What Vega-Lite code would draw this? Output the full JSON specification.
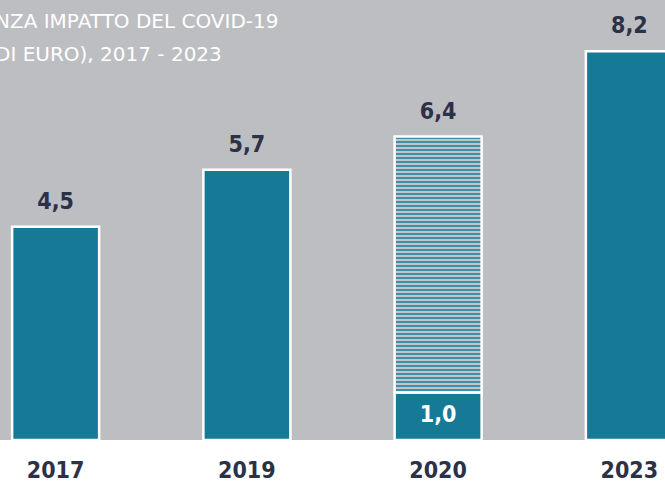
{
  "$schema": "https://vega.github.io/schema/vega-lite/v6.json",
  "width": 665,
  "height": 440,
  "autosize": {"type": "none"},
  "padding": {"left": 0, "top": 0, "right": 0, "bottom": 42},
  "background": "#ffffff",
  "title": {
    "text": ["NZA IMPATTO DEL COVID-19", "DI EURO), 2017 - 2023"],
    "anchor": "start",
    "frame": "group",
    "orient": "top",
    "offset": -65,
    "baseline": "top",
    "dx": -5,
    "lineHeight": 33,
    "font": "'DejaVu Sans', sans-serif",
    "fontSize": 20,
    "fontWeight": "normal",
    "color": "#ffffff"
  },
  "data": {
    "values": [
      {"anno": "2017", "da": 0, "a": 4.5, "tipo": "effettivo"},
      {"anno": "2019", "da": 0, "a": 5.7, "tipo": "effettivo"},
      {"anno": "2020", "da": 0, "a": 1.0, "tipo": "effettivo"},
      {"anno": "2020", "da": 1.0, "a": 6.4, "tipo": "senza impatto COVID-19"},
      {"anno": "2023", "da": 0, "a": 8.2, "tipo": "effettivo"}
    ]
  },
  "encoding": {
    "x": {
      "field": "anno",
      "type": "nominal",
      "sort": ["2017", "2019", "2020", "2023"],
      "scale": {"range": [-40, 725], "paddingInner": 0.545, "paddingOuter": 0.2725},
      "axis": {
        "title": null,
        "domain": false,
        "ticks": false,
        "labelAngle": 0,
        "labelPadding": 19,
        "labelFont": "'DejaVu Sans Condensed', sans-serif",
        "labelFontWeight": "bold",
        "labelFontSize": 23,
        "labelColor": "#2b3146"
      }
    },
    "y": {
      "field": "a",
      "type": "quantitative",
      "scale": {"domain": [0, 9.28125], "nice": false, "zero": true},
      "axis": null
    },
    "y2": {"field": "da"}
  },
  "layer": [
    {
      "transform": [{"filter": "datum.tipo == 'effettivo'"}],
      "mark": {"type": "bar", "fill": "#167a97", "stroke": "#ffffff", "strokeWidth": 2.5}
    },
    {
      "transform": [{"filter": "datum.tipo != 'effettivo'"}],
      "mark": {
        "type": "bar",
        "stroke": "#ffffff",
        "strokeWidth": 2.5,
        "fill": {
          "gradient": "linear", "x1": 0, "y1": 0, "x2": 0, "y2": 1,
          "stops": [
            {"offset": 0, "color": "#3f8fab"}, {"offset": 0.0078125, "color": "#3f8fab"}, {"offset": 0.0078125, "color": "#c3c4c7"}, {"offset": 0.015625, "color": "#c3c4c7"},
            {"offset": 0.015625, "color": "#3f8fab"}, {"offset": 0.0234375, "color": "#3f8fab"}, {"offset": 0.0234375, "color": "#c3c4c7"}, {"offset": 0.03125, "color": "#c3c4c7"},
            {"offset": 0.03125, "color": "#3f8fab"}, {"offset": 0.0390625, "color": "#3f8fab"}, {"offset": 0.0390625, "color": "#c3c4c7"}, {"offset": 0.046875, "color": "#c3c4c7"},
            {"offset": 0.046875, "color": "#3f8fab"}, {"offset": 0.0546875, "color": "#3f8fab"}, {"offset": 0.0546875, "color": "#c3c4c7"}, {"offset": 0.0625, "color": "#c3c4c7"},
            {"offset": 0.0625, "color": "#3f8fab"}, {"offset": 0.0703125, "color": "#3f8fab"}, {"offset": 0.0703125, "color": "#c3c4c7"}, {"offset": 0.078125, "color": "#c3c4c7"},
            {"offset": 0.078125, "color": "#3f8fab"}, {"offset": 0.0859375, "color": "#3f8fab"}, {"offset": 0.0859375, "color": "#c3c4c7"}, {"offset": 0.09375, "color": "#c3c4c7"},
            {"offset": 0.09375, "color": "#3f8fab"}, {"offset": 0.1015625, "color": "#3f8fab"}, {"offset": 0.1015625, "color": "#c3c4c7"}, {"offset": 0.109375, "color": "#c3c4c7"},
            {"offset": 0.109375, "color": "#3f8fab"}, {"offset": 0.1171875, "color": "#3f8fab"}, {"offset": 0.1171875, "color": "#c3c4c7"}, {"offset": 0.125, "color": "#c3c4c7"},
            {"offset": 0.125, "color": "#3f8fab"}, {"offset": 0.1328125, "color": "#3f8fab"}, {"offset": 0.1328125, "color": "#c3c4c7"}, {"offset": 0.140625, "color": "#c3c4c7"},
            {"offset": 0.140625, "color": "#3f8fab"}, {"offset": 0.1484375, "color": "#3f8fab"}, {"offset": 0.1484375, "color": "#c3c4c7"}, {"offset": 0.15625, "color": "#c3c4c7"},
            {"offset": 0.15625, "color": "#3f8fab"}, {"offset": 0.1640625, "color": "#3f8fab"}, {"offset": 0.1640625, "color": "#c3c4c7"}, {"offset": 0.171875, "color": "#c3c4c7"},
            {"offset": 0.171875, "color": "#3f8fab"}, {"offset": 0.1796875, "color": "#3f8fab"}, {"offset": 0.1796875, "color": "#c3c4c7"}, {"offset": 0.1875, "color": "#c3c4c7"},
            {"offset": 0.1875, "color": "#3f8fab"}, {"offset": 0.1953125, "color": "#3f8fab"}, {"offset": 0.1953125, "color": "#c3c4c7"}, {"offset": 0.203125, "color": "#c3c4c7"},
            {"offset": 0.203125, "color": "#3f8fab"}, {"offset": 0.2109375, "color": "#3f8fab"}, {"offset": 0.2109375, "color": "#c3c4c7"}, {"offset": 0.21875, "color": "#c3c4c7"},
            {"offset": 0.21875, "color": "#3f8fab"}, {"offset": 0.2265625, "color": "#3f8fab"}, {"offset": 0.2265625, "color": "#c3c4c7"}, {"offset": 0.234375, "color": "#c3c4c7"},
            {"offset": 0.234375, "color": "#3f8fab"}, {"offset": 0.2421875, "color": "#3f8fab"}, {"offset": 0.2421875, "color": "#c3c4c7"}, {"offset": 0.25, "color": "#c3c4c7"},
            {"offset": 0.25, "color": "#3f8fab"}, {"offset": 0.2578125, "color": "#3f8fab"}, {"offset": 0.2578125, "color": "#c3c4c7"}, {"offset": 0.265625, "color": "#c3c4c7"},
            {"offset": 0.265625, "color": "#3f8fab"}, {"offset": 0.2734375, "color": "#3f8fab"}, {"offset": 0.2734375, "color": "#c3c4c7"}, {"offset": 0.28125, "color": "#c3c4c7"},
            {"offset": 0.28125, "color": "#3f8fab"}, {"offset": 0.2890625, "color": "#3f8fab"}, {"offset": 0.2890625, "color": "#c3c4c7"}, {"offset": 0.296875, "color": "#c3c4c7"},
            {"offset": 0.296875, "color": "#3f8fab"}, {"offset": 0.3046875, "color": "#3f8fab"}, {"offset": 0.3046875, "color": "#c3c4c7"}, {"offset": 0.3125, "color": "#c3c4c7"},
            {"offset": 0.3125, "color": "#3f8fab"}, {"offset": 0.3203125, "color": "#3f8fab"}, {"offset": 0.3203125, "color": "#c3c4c7"}, {"offset": 0.328125, "color": "#c3c4c7"},
            {"offset": 0.328125, "color": "#3f8fab"}, {"offset": 0.3359375, "color": "#3f8fab"}, {"offset": 0.3359375, "color": "#c3c4c7"}, {"offset": 0.34375, "color": "#c3c4c7"},
            {"offset": 0.34375, "color": "#3f8fab"}, {"offset": 0.3515625, "color": "#3f8fab"}, {"offset": 0.3515625, "color": "#c3c4c7"}, {"offset": 0.359375, "color": "#c3c4c7"},
            {"offset": 0.359375, "color": "#3f8fab"}, {"offset": 0.3671875, "color": "#3f8fab"}, {"offset": 0.3671875, "color": "#c3c4c7"}, {"offset": 0.375, "color": "#c3c4c7"},
            {"offset": 0.375, "color": "#3f8fab"}, {"offset": 0.3828125, "color": "#3f8fab"}, {"offset": 0.3828125, "color": "#c3c4c7"}, {"offset": 0.390625, "color": "#c3c4c7"},
            {"offset": 0.390625, "color": "#3f8fab"}, {"offset": 0.3984375, "color": "#3f8fab"}, {"offset": 0.3984375, "color": "#c3c4c7"}, {"offset": 0.40625, "color": "#c3c4c7"},
            {"offset": 0.40625, "color": "#3f8fab"}, {"offset": 0.4140625, "color": "#3f8fab"}, {"offset": 0.4140625, "color": "#c3c4c7"}, {"offset": 0.421875, "color": "#c3c4c7"},
            {"offset": 0.421875, "color": "#3f8fab"}, {"offset": 0.4296875, "color": "#3f8fab"}, {"offset": 0.4296875, "color": "#c3c4c7"}, {"offset": 0.4375, "color": "#c3c4c7"},
            {"offset": 0.4375, "color": "#3f8fab"}, {"offset": 0.4453125, "color": "#3f8fab"}, {"offset": 0.4453125, "color": "#c3c4c7"}, {"offset": 0.453125, "color": "#c3c4c7"},
            {"offset": 0.453125, "color": "#3f8fab"}, {"offset": 0.4609375, "color": "#3f8fab"}, {"offset": 0.4609375, "color": "#c3c4c7"}, {"offset": 0.46875, "color": "#c3c4c7"},
            {"offset": 0.46875, "color": "#3f8fab"}, {"offset": 0.4765625, "color": "#3f8fab"}, {"offset": 0.4765625, "color": "#c3c4c7"}, {"offset": 0.484375, "color": "#c3c4c7"},
            {"offset": 0.484375, "color": "#3f8fab"}, {"offset": 0.4921875, "color": "#3f8fab"}, {"offset": 0.4921875, "color": "#c3c4c7"}, {"offset": 0.5, "color": "#c3c4c7"},
            {"offset": 0.5, "color": "#3f8fab"}, {"offset": 0.5078125, "color": "#3f8fab"}, {"offset": 0.5078125, "color": "#c3c4c7"}, {"offset": 0.515625, "color": "#c3c4c7"},
            {"offset": 0.515625, "color": "#3f8fab"}, {"offset": 0.5234375, "color": "#3f8fab"}, {"offset": 0.5234375, "color": "#c3c4c7"}, {"offset": 0.53125, "color": "#c3c4c7"},
            {"offset": 0.53125, "color": "#3f8fab"}, {"offset": 0.5390625, "color": "#3f8fab"}, {"offset": 0.5390625, "color": "#c3c4c7"}, {"offset": 0.546875, "color": "#c3c4c7"},
            {"offset": 0.546875, "color": "#3f8fab"}, {"offset": 0.5546875, "color": "#3f8fab"}, {"offset": 0.5546875, "color": "#c3c4c7"}, {"offset": 0.5625, "color": "#c3c4c7"},
            {"offset": 0.5625, "color": "#3f8fab"}, {"offset": 0.5703125, "color": "#3f8fab"}, {"offset": 0.5703125, "color": "#c3c4c7"}, {"offset": 0.578125, "color": "#c3c4c7"},
            {"offset": 0.578125, "color": "#3f8fab"}, {"offset": 0.5859375, "color": "#3f8fab"}, {"offset": 0.5859375, "color": "#c3c4c7"}, {"offset": 0.59375, "color": "#c3c4c7"},
            {"offset": 0.59375, "color": "#3f8fab"}, {"offset": 0.6015625, "color": "#3f8fab"}, {"offset": 0.6015625, "color": "#c3c4c7"}, {"offset": 0.609375, "color": "#c3c4c7"},
            {"offset": 0.609375, "color": "#3f8fab"}, {"offset": 0.6171875, "color": "#3f8fab"}, {"offset": 0.6171875, "color": "#c3c4c7"}, {"offset": 0.625, "color": "#c3c4c7"},
            {"offset": 0.625, "color": "#3f8fab"}, {"offset": 0.6328125, "color": "#3f8fab"}, {"offset": 0.6328125, "color": "#c3c4c7"}, {"offset": 0.640625, "color": "#c3c4c7"},
            {"offset": 0.640625, "color": "#3f8fab"}, {"offset": 0.6484375, "color": "#3f8fab"}, {"offset": 0.6484375, "color": "#c3c4c7"}, {"offset": 0.65625, "color": "#c3c4c7"},
            {"offset": 0.65625, "color": "#3f8fab"}, {"offset": 0.6640625, "color": "#3f8fab"}, {"offset": 0.6640625, "color": "#c3c4c7"}, {"offset": 0.671875, "color": "#c3c4c7"},
            {"offset": 0.671875, "color": "#3f8fab"}, {"offset": 0.6796875, "color": "#3f8fab"}, {"offset": 0.6796875, "color": "#c3c4c7"}, {"offset": 0.6875, "color": "#c3c4c7"},
            {"offset": 0.6875, "color": "#3f8fab"}, {"offset": 0.6953125, "color": "#3f8fab"}, {"offset": 0.6953125, "color": "#c3c4c7"}, {"offset": 0.703125, "color": "#c3c4c7"},
            {"offset": 0.703125, "color": "#3f8fab"}, {"offset": 0.7109375, "color": "#3f8fab"}, {"offset": 0.7109375, "color": "#c3c4c7"}, {"offset": 0.71875, "color": "#c3c4c7"},
            {"offset": 0.71875, "color": "#3f8fab"}, {"offset": 0.7265625, "color": "#3f8fab"}, {"offset": 0.7265625, "color": "#c3c4c7"}, {"offset": 0.734375, "color": "#c3c4c7"},
            {"offset": 0.734375, "color": "#3f8fab"}, {"offset": 0.7421875, "color": "#3f8fab"}, {"offset": 0.7421875, "color": "#c3c4c7"}, {"offset": 0.75, "color": "#c3c4c7"},
            {"offset": 0.75, "color": "#3f8fab"}, {"offset": 0.7578125, "color": "#3f8fab"}, {"offset": 0.7578125, "color": "#c3c4c7"}, {"offset": 0.765625, "color": "#c3c4c7"},
            {"offset": 0.765625, "color": "#3f8fab"}, {"offset": 0.7734375, "color": "#3f8fab"}, {"offset": 0.7734375, "color": "#c3c4c7"}, {"offset": 0.78125, "color": "#c3c4c7"},
            {"offset": 0.78125, "color": "#3f8fab"}, {"offset": 0.7890625, "color": "#3f8fab"}, {"offset": 0.7890625, "color": "#c3c4c7"}, {"offset": 0.796875, "color": "#c3c4c7"},
            {"offset": 0.796875, "color": "#3f8fab"}, {"offset": 0.8046875, "color": "#3f8fab"}, {"offset": 0.8046875, "color": "#c3c4c7"}, {"offset": 0.8125, "color": "#c3c4c7"},
            {"offset": 0.8125, "color": "#3f8fab"}, {"offset": 0.8203125, "color": "#3f8fab"}, {"offset": 0.8203125, "color": "#c3c4c7"}, {"offset": 0.828125, "color": "#c3c4c7"},
            {"offset": 0.828125, "color": "#3f8fab"}, {"offset": 0.8359375, "color": "#3f8fab"}, {"offset": 0.8359375, "color": "#c3c4c7"}, {"offset": 0.84375, "color": "#c3c4c7"},
            {"offset": 0.84375, "color": "#3f8fab"}, {"offset": 0.8515625, "color": "#3f8fab"}, {"offset": 0.8515625, "color": "#c3c4c7"}, {"offset": 0.859375, "color": "#c3c4c7"},
            {"offset": 0.859375, "color": "#3f8fab"}, {"offset": 0.8671875, "color": "#3f8fab"}, {"offset": 0.8671875, "color": "#c3c4c7"}, {"offset": 0.875, "color": "#c3c4c7"},
            {"offset": 0.875, "color": "#3f8fab"}, {"offset": 0.8828125, "color": "#3f8fab"}, {"offset": 0.8828125, "color": "#c3c4c7"}, {"offset": 0.890625, "color": "#c3c4c7"},
            {"offset": 0.890625, "color": "#3f8fab"}, {"offset": 0.8984375, "color": "#3f8fab"}, {"offset": 0.8984375, "color": "#c3c4c7"}, {"offset": 0.90625, "color": "#c3c4c7"},
            {"offset": 0.90625, "color": "#3f8fab"}, {"offset": 0.9140625, "color": "#3f8fab"}, {"offset": 0.9140625, "color": "#c3c4c7"}, {"offset": 0.921875, "color": "#c3c4c7"},
            {"offset": 0.921875, "color": "#3f8fab"}, {"offset": 0.9296875, "color": "#3f8fab"}, {"offset": 0.9296875, "color": "#c3c4c7"}, {"offset": 0.9375, "color": "#c3c4c7"},
            {"offset": 0.9375, "color": "#3f8fab"}, {"offset": 0.9453125, "color": "#3f8fab"}, {"offset": 0.9453125, "color": "#c3c4c7"}, {"offset": 0.953125, "color": "#c3c4c7"},
            {"offset": 0.953125, "color": "#3f8fab"}, {"offset": 0.9609375, "color": "#3f8fab"}, {"offset": 0.9609375, "color": "#c3c4c7"}, {"offset": 0.96875, "color": "#c3c4c7"},
            {"offset": 0.96875, "color": "#3f8fab"}, {"offset": 0.9765625, "color": "#3f8fab"}, {"offset": 0.9765625, "color": "#c3c4c7"}, {"offset": 0.984375, "color": "#c3c4c7"},
            {"offset": 0.984375, "color": "#3f8fab"}, {"offset": 0.9921875, "color": "#3f8fab"}, {"offset": 0.9921875, "color": "#c3c4c7"}, {"offset": 1, "color": "#c3c4c7"}
          ]
        }
      }
    },
    {
      "transform": [{"filter": "datum.anno != '2020' || datum.tipo != 'effettivo'"}],
      "mark": {
        "type": "text",
        "baseline": "alphabetic",
        "dy": -18,
        "font": "'DejaVu Sans Condensed', sans-serif",
        "fontWeight": "bold",
        "fontSize": 23,
        "color": "#2b3146"
      },
      "encoding": {
        "y2": null,
        "text": {"field": "a", "type": "quantitative", "format": ".1f"}
      }
    },
    {
      "transform": [{"filter": "datum.anno == '2020' && datum.tipo == 'effettivo'"}],
      "mark": {
        "type": "text",
        "baseline": "middle",
        "dy": 22,
        "font": "'DejaVu Sans Condensed', sans-serif",
        "fontWeight": "bold",
        "fontSize": 23,
        "color": "#ffffff"
      },
      "encoding": {
        "y2": null,
        "text": {"field": "a", "type": "quantitative", "format": ".1f"}
      }
    }
  ],
  "config": {
    "view": {"fill": "#bdbec2", "stroke": null},
    "locale": {
      "number": {"decimal": ",", "thousands": ".", "grouping": [3], "currency": ["", " €"]}
    }
  }
}
